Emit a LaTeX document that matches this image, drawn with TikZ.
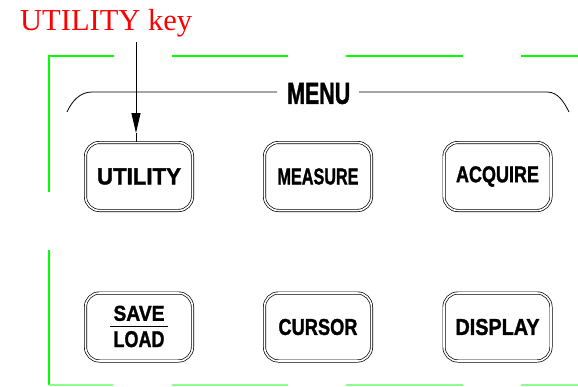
\documentclass[tikz,border=0pt]{standalone}
\usepackage{fontspec}
\usepackage{graphicx}
\setmainfont{Liberation Serif}
\newfontfamily\panelfont[FakeBold=1.5]{Liberation Sans}
\newcommand{\keytext}[3]{\resizebox{#1}{#2}{\panelfont\bfseries #3}}
\usetikzlibrary{arrows.meta}
\definecolor{framegreen}{HTML}{00FF00}
\definecolor{keyred}{HTML}{FF0000}
\tikzset{
  panelkey/.style={draw, double, line width=0.7pt, double distance=1.6pt,
    rounded corners=14pt, minimum width=107pt, minimum height=68pt, inner sep=0pt,
    font=\fontsize{4}{4}\selectfont},
  frameline/.style={framegreen, line width=1.2pt},
}

\begin{document}
\begin{tikzpicture}[x=1pt,y=-1pt]
    \useasboundingbox (0,0) rectangle (578,386);
    \draw[frameline] (114,56) -- (49,56) -- (49,192);
    \draw[frameline] (49,250) -- (49,385);
    \foreach \a/\b in {172/288,346/463,521/578}
      \draw[frameline] (\a,56) -- (\b,56);
    \foreach \a/\b in {49/113,172/288,346/463,521/578}
      \draw[frameline, framegreen!45] (\a,385) -- (\b,385);
    \node[inner sep=0pt, anchor=west] (menu) at (287,93.5) {\keytext{63pt}{21pt}{MENU}};
    \draw[line width=0.8pt] (277,92) -- (92,92) .. controls (80,92) and (72,101) .. (67,112);
    \draw[line width=0.8pt] (359,92) -- (547,92) .. controls (558,92) and (564,102) .. (569,112);
    \node[panelkey] (utility) at (139,176.5) {\keytext{84pt}{16pt}{UTILITY}};
    \node[panelkey] (measure) at (318,176.5) {\keytext{81pt}{16pt}{MEASURE}};
    \node[panelkey] (acquire) at (497.5,176.5) {\keytext{83pt}{16pt}{ACQUIRE}};
    \node[panelkey] (saveload) at (139,327) {\setlength{\arrayrulewidth}{1.3pt}%
      \begin{tabular}{@{\hspace{3pt}}c@{\hspace{3pt}}}\keytext{51pt}{15pt}{SAVE}\\[3.8pt]\hline
      \rule{0pt}{20pt}\keytext{51pt}{16pt}{LOAD}\end{tabular}};
    \node[panelkey] (cursor) at (318,327) {\keytext{79pt}{16pt}{CURSOR}};
    \node[panelkey] (display) at (497.5,327) {\keytext{84pt}{16pt}{DISPLAY}};
    \node[text=keyred, font=\fontsize{30.5}{30.5}\selectfont, anchor=base west, inner sep=0pt] (keylabel) at (20,30) {UTILITY key};
    \coordinate (keyfoot) at (136,42);
    \coordinate (keytip) at (136,133);
    \draw[line width=0.9pt, -{Triangle[width=9pt,length=20pt]}] (keyfoot) -- (keytip);
    \draw[line width=0.9pt] (keytip) -- (keytip |- utility.north);
  \end{tikzpicture}
\end{document}
